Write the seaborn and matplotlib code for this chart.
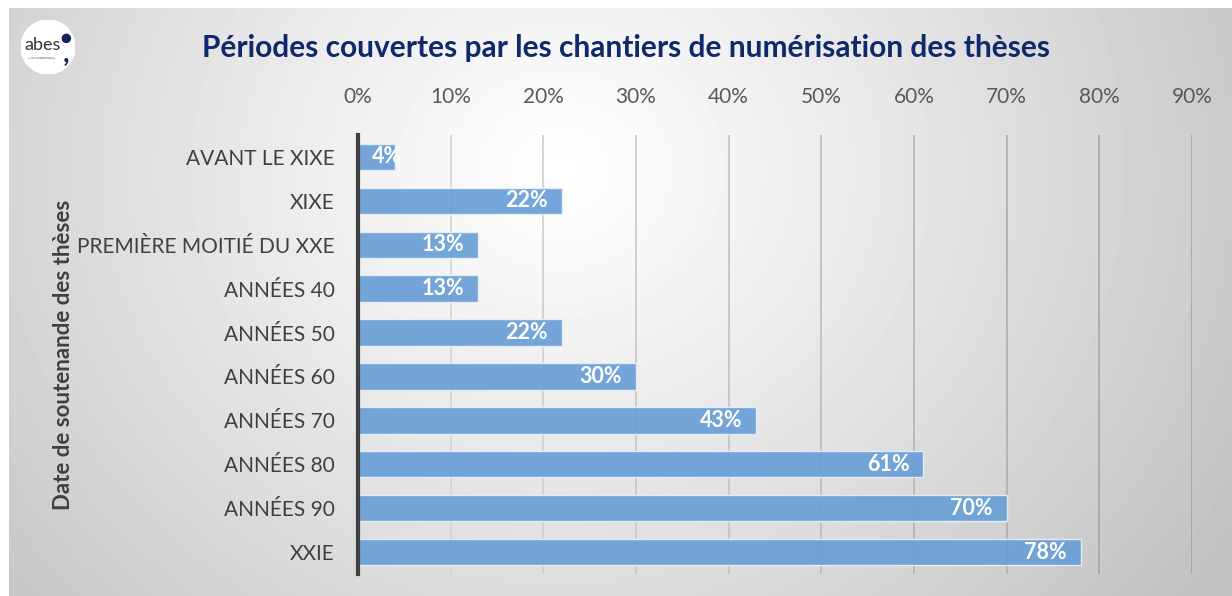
#Importations
import numpy as np
import pandas as pd
import seaborn as sns
import matplotlib.pyplot as plt
from matplotlib.patches import Circle

#Data
categories = ["AVANT LE XIXE", "XIXE", "PREMIÈRE MOITIÉ DU XXE", "ANNÉES 40",
              "ANNÉES 50", "ANNÉES 60", "ANNÉES 70", "ANNÉES 80", "ANNÉES 90", "XXIE"]
shares = [0.04, 0.22, 0.13, 0.13, 0.22, 0.30, 0.43, 0.61, 0.70, 0.78]
x_ticks = [0.0, 0.1, 0.2, 0.3, 0.4, 0.5, 0.6, 0.7, 0.8, 0.9]

title = "Périodes couvertes par les chantiers de numérisation des thèses"
y_title = "Date de soutenande des thèses"

df = pd.DataFrame({"periode": categories, "part": shares})

sns.set_theme(style="white")
plt.rcParams['font.family'] = ['Lato', 'DejaVu Sans']

W, H = 1232, 596
fig = plt.figure(figsize=(W / 100, H / 100), dpi=100)

#Background: radial gradient, white border top/left
bg = fig.add_axes([0, 0, 1, 1], zorder=-10)
yy, xx = np.mgrid[0:H, 0:W]
d = np.sqrt(((xx - 560) / 1.0) ** 2 + ((yy - 170) / 0.9) ** 2)
t = np.clip(d / 780, 0, 1) ** 1.1
img = 1.0 - 0.24 * t
img[:8, :] = 1.0
img[:, :9] = 1.0
bg.imshow(img, cmap="gray", vmin=0, vmax=1, aspect="auto", interpolation="bilinear")
bg.axis("off")

#Main axes
ax = fig.add_axes([358 / W, 1 - 574 / H, (1192 - 358) / W, (574 - 135) / H])
ax.patch.set_alpha(0)
sns.barplot(data=df, x="part", y="periode", orient="h", color="#6a9fd6",
            saturation=1, width=0.6, edgecolor="#e8f0fa", linewidth=1,
            alpha=0.92, ax=ax, zorder=3)

ax.set_xlim(0, 0.9)
ax.set_xticks(x_ticks)
ax.set_xticklabels([f"{int(round(v * 100))}%" for v in x_ticks])
ax.xaxis.tick_top()
ax.tick_params(axis="x", length=0, pad=20, labelsize=15, labelcolor="#595959")
ax.tick_params(axis="y", length=0, pad=17, labelsize=15, labelcolor="#404040")

# gridlines get darker towards the right, as on the gradient background
grid_greys = np.linspace(0.82, 0.62, len(x_ticks) - 1)
for v, g in zip(x_ticks[1:], grid_greys):
    ax.axvline(v, color=str(g), lw=1.1, zorder=1)

for s in ["top", "right", "bottom"]:
    ax.spines[s].set_visible(False)
ax.spines["left"].set_color("#404040")
ax.spines["left"].set_linewidth(3)
ax.spines["left"].set_zorder(5)

ax.set_xlabel("")
ax.set_ylabel(y_title, fontsize=16, fontweight="bold", color="#404040", labelpad=2)

#Value labels (inside end, small bars start from the axis)
for i, v in enumerate(shares):
    txt = f"{int(round(v * 100))}%"
    if v < 0.06:
        ax.annotate(txt, xy=(0, i), xytext=(10, 0), textcoords="offset points",
                    ha="left", va="center", fontsize=15.5, fontweight="bold",
                    color="white", zorder=6)
    else:
        ax.annotate(txt, xy=(v, i), xytext=(-10, 0), textcoords="offset points",
                    ha="right", va="center", fontsize=15.5, fontweight="bold",
                    color="white", zorder=6)

#Title
fig.text(626 / W, 1 - 48 / H, title, ha="center", va="center",
         fontsize=21.5, fontweight="bold", color="#0e2a6b")

#Logo
logo = fig.add_axes([21 / W, 1 - 74 / H, 54 / W, 54 / H])
logo.set_xlim(0, 1)
logo.set_ylim(0, 1)
logo.set_aspect("equal")
logo.axis("off")
logo.add_patch(Circle((0.5, 0.5), 0.5, color="white"))
logo.text(0.40, 0.54, "abes", ha="center", va="center", fontsize=13, color="#333333")
logo.text(0.40, 0.30, "agence bibliographique\nde l'enseignement supérieur",
          ha="center", va="center", fontsize=1.6, color="#555555")
logo.add_patch(Circle((0.84, 0.66), 0.075, color="#12275f"))
logo.text(0.84, 0.38, ",", ha="center", va="center", fontsize=20,
          fontweight="bold", color="#12275f")

fig.savefig("out.png", dpi=100)
